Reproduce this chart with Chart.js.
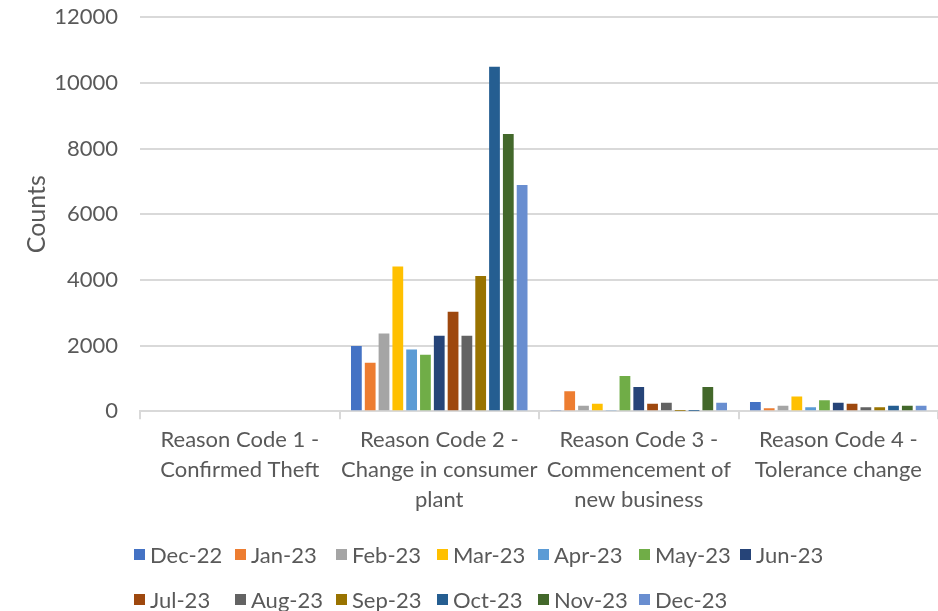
<!DOCTYPE html>
<html lang="en">
<head>
    <meta charset="UTF-8">
    <title>Counts by Reason Code</title>
    <script src="https://cdn.jsdelivr.net/npm/chart.js@4.4.1/dist/chart.umd.min.js"></script>
    <style>
        body {
            margin: 0;
            background: #ffffff;
            font-family: Lato, "Liberation Sans", sans-serif;
        }
        .wrap {
            position: relative;
            width: 938px;
            height: 611px;
            overflow: hidden;
        }
        #chart {
            position: absolute;
            left: 0;
            top: -18px;
        }
        #legend {
            position: absolute;
            left: 134px;
            top: 541px;
            display: grid;
            grid-template-columns: repeat(7, 101px);
            row-gap: 19px;
            color: #595959;
            font-size: 22px;
        }
        #legend .item {
            display: flex;
            align-items: center;
            height: 26px;
            white-space: nowrap;
        }
        #legend .box {
            width: 11px;
            height: 11px;
            margin-right: 5px;
            flex: none;
        }
    </style>
</head>
<body>
    <div class="wrap">
        <canvas id="chart" width="938" height="629"></canvas>
        <div id="legend"></div>
    </div>

    <script>
        const categories = [
            ['Reason Code 1 -', 'Confirmed Theft'],
            ['Reason Code 2 -', 'Change in consumer', 'plant'],
            ['Reason Code 3 -', 'Commencement of', 'new business'],
            ['Reason Code 4 -', 'Tolerance change']
        ];

        const months = ['Dec-22', 'Jan-23', 'Feb-23', 'Mar-23', 'Apr-23', 'May-23', 'Jun-23',
                        'Jul-23', 'Aug-23', 'Sep-23', 'Oct-23', 'Nov-23', 'Dec-23'];

        // counts per month, one value per reason code
        const dec22 = [0, 1990, 20, 285];
        const jan23 = [0, 1480, 610, 90];
        const feb23 = [0, 2370, 165, 165];
        const mar23 = [0, 4410, 225, 450];
        const apr23 = [0, 1880, 20, 125];
        const may23 = [0, 1720, 1070, 335];
        const jun23 = [0, 2300, 735, 255];
        const jul23 = [0, 3030, 225, 225];
        const aug23 = [0, 2300, 255, 125];
        const sep23 = [0, 4120, 10, 125];
        const oct23 = [0, 10490, 10, 165];
        const nov23 = [0, 8440, 735, 165];
        const dec23 = [0, 6890, 255, 165];

        const seriesValues = [dec22, jan23, feb23, mar23, apr23, may23, jun23,
                              jul23, aug23, sep23, oct23, nov23, dec23];

        const colors = ['#4472C4', '#ED7D31', '#A5A5A5', '#FFC000', '#5B9BD5', '#70AD47', '#264478',
                        '#9E480E', '#636363', '#997300', '#255E91', '#43682B', '#698ED0'];

        const yTicks = [0, 2000, 4000, 6000, 8000, 10000, 12000];

        const textColor = '#595959';
        const gridColor = '#d9d9d9';
        const fontFamily = 'Lato, "Liberation Sans", sans-serif';

        const datasets = months.map((m, i) => ({
            label: m,
            data: seriesValues[i],
            backgroundColor: colors[i],
            barPercentage: 0.78,
            categoryPercentage: 0.9
        }));

        const chart = new Chart(document.getElementById('chart'), {
            type: 'bar',
            data: { labels: categories, datasets: datasets },
            options: {
                responsive: false,
                animation: false,
                layout: { padding: { left: 22, top: 0, right: 0, bottom: 90 } },
                plugins: {
                    legend: { display: false },
                    tooltip: { enabled: false }
                },
                scales: {
                    x: {
                        grid: {
                            drawOnChartArea: false,
                            color: gridColor,
                            lineWidth: 2,
                            tickLength: 8
                        },
                        border: { color: gridColor, width: 2 },
                        ticks: {
                            color: textColor,
                            font: { family: fontFamily, size: 22, lineHeight: 1.36 },
                            padding: 6,
                            maxRotation: 0,
                            autoSkip: false
                        }
                    },
                    y: {
                        min: 0,
                        max: 12000,
                        afterBuildTicks: (scale) => {
                            scale.ticks = yTicks.map(v => ({ value: v }));
                        },
                        afterFit: (scale) => {
                            scale.width = 118;
                        },
                        grid: {
                            color: gridColor,
                            lineWidth: 2,
                            drawTicks: false
                        },
                        border: { display: false },
                        ticks: {
                            color: textColor,
                            font: { family: fontFamily, size: 22 },
                            padding: 22,
                            callback: (v) => String(v)
                        },
                        title: {
                            display: true,
                            text: 'Counts',
                            color: textColor,
                            font: { family: fontFamily, size: 25 },
                            padding: 0
                        }
                    }
                }
            }
        });

        // HTML legend built from the chart's own legend items
        const legendEl = document.getElementById('legend');
        chart.options.plugins.legend.labels.generateLabels(chart).forEach(item => {
            const div = document.createElement('div');
            div.className = 'item';
            const box = document.createElement('span');
            box.className = 'box';
            box.style.background = item.fillStyle;
            const txt = document.createElement('span');
            txt.textContent = item.text;
            div.appendChild(box);
            div.appendChild(txt);
            legendEl.appendChild(div);
        });
    </script>
</body>
</html>
